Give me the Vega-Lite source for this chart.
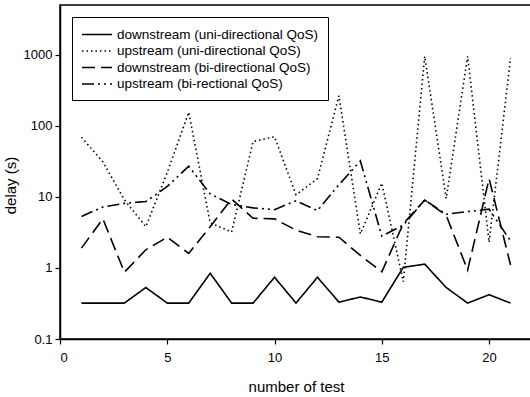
{
  "$schema": "https://vega.github.io/schema/vega-lite/v6.json",
  "autosize": "none",
  "width": 472,
  "height": 334,
  "padding": {"left": 60, "top": 5, "right": 0, "bottom": 58},
  "background": "white",
  "config": {
    "font": "Liberation Sans",
    "view": {"stroke": "black", "strokeWidth": 1.5},
    "axis": {
      "grid": false,
      "domainColor": "black",
      "domainWidth": 1.5,
      "tickColor": "black",
      "tickSize": 5,
      "tickWidth": 1.2,
      "labelColor": "black",
      "labelFontSize": 13,
      "titleColor": "black",
      "titleFontSize": 15,
      "titleFontWeight": "normal"
    }
  },
  "data": {
    "values": [
      {"n": 1, "DU": 0.32, "UU": 69, "DB": 1.9, "UB": 5.3},
      {"n": 2, "DU": 0.32, "UU": 31, "DB": 4.9, "UB": 7.2},
      {"n": 3, "DU": 0.32, "UU": 9.1, "DB": 0.87, "UB": 8.1},
      {"n": 4, "DU": 0.53, "UU": 3.8, "DB": 1.8, "UB": 8.6},
      {"n": 5, "DU": 0.32, "UU": 22, "DB": 2.7, "UB": 14},
      {"n": 6, "DU": 0.32, "UU": 155, "DB": 1.6, "UB": 27},
      {"n": 7, "DU": 0.84, "UU": 4.3, "DB": 3.8, "UB": 11},
      {"n": 8, "DU": 0.32, "UU": 3.2, "DB": 9.3, "UB": 7.8},
      {"n": 9, "DU": 0.32, "UU": 60, "DB": 5.0, "UB": 7.0},
      {"n": 10, "DU": 0.74, "UU": 70, "DB": 4.9, "UB": 6.6},
      {"n": 11, "DU": 0.32, "UU": 10.7, "DB": 3.4, "UB": 8.8},
      {"n": 12, "DU": 0.74, "UU": 18, "DB": 2.75, "UB": 6.4},
      {"n": 13, "DU": 0.33, "UU": 265, "DB": 2.7, "UB": 14.8},
      {"n": 14, "DU": 0.39, "UU": 3.0, "DB": 1.5, "UB": 32},
      {"n": 15, "DU": 0.33, "UU": 15.6, "DB": 0.88, "UB": 2.8},
      {"n": 16, "DU": 1.02, "UU": 0.64, "DB": 4.2, "UB": 4.0},
      {"n": 17, "DU": 1.13, "UU": 950, "DB": 9.0, "UB": 9.0},
      {"n": 18, "DU": 0.53, "UU": 9.5, "DB": 5.5, "UB": 5.7},
      {"n": 19, "DU": 0.32, "UU": 950, "DB": 0.93, "UB": 6.2},
      {"n": 20, "DU": 0.42, "UU": 2.3, "DB": 18, "UB": 6.7},
      {"n": 21, "DU": 0.32, "UU": 900, "DB": 1.1, "UB": 2.4}
    ]
  },
  "transform": [
    {"fold": ["DU", "UU", "DB", "UB"], "as": ["series", "delay"]}
  ],
  "mark": {"type": "line", "color": "black", "strokeWidth": 1.6},
  "encoding": {
    "x": {
      "field": "n",
      "type": "quantitative",
      "scale": {"domain": [0, 22], "nice": false, "zero": false},
      "axis": {"values": [0, 5, 10, 15, 20], "title": "number of test", "labelPadding": 7, "titlePadding": 15}
    },
    "y": {
      "field": "delay",
      "type": "quantitative",
      "scale": {"type": "log", "domain": [0.1, 5000], "nice": false},
      "axis": {"values": [0.1, 1, 10, 100, 1000], "format": "~g", "title": "delay (s)", "labelPadding": 3, "titlePadding": 5, "titleY": 180}
    },
    "strokeDash": {
      "field": "series",
      "type": "nominal",
      "sort": ["DU", "UU", "DB", "UB"],
      "scale": {
        "domain": ["DU", "UU", "DB", "UB"],
        "range": [[1, 0], [1.5, 3], [13, 6], [12, 4, 2, 4, 2, 4]]
      },
      "legend": {
        "title": null,
        "orient": "none",
        "legendX": 12,
        "legendY": 12,
        "padding": 9,
        "strokeColor": "black",
        "fillColor": "white",
        "symbolType": "M-1,0H3",
        "symbolSize": 225,
        "symbolStrokeWidth": 1.6,
        "symbolStrokeColor": "black",
        "labelFontSize": 13.5,
        "labelColor": "black",
        "labelOffset": 19,
        "labelLimit": 0,
        "rowPadding": 1.5,
        "labelExpr": "{'DU': 'downstream (uni-directional QoS)', 'UU': 'upstream (uni-directional QoS)', 'DB': 'downstream (bi-directional QoS)', 'UB': 'upstream (bi-rectional QoS)'}[datum.value]"
      }
    }
  }
}
